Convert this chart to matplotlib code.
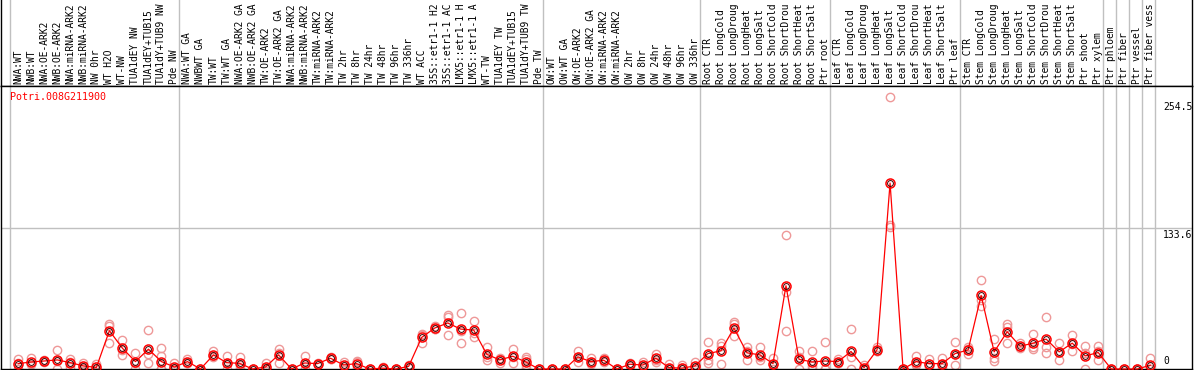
"""Expression profile of Potri.008G211900 across sample groups"""
import matplotlib

matplotlib.use("Agg")
import matplotlib.pyplot as plt

GENE = "Potri.008G211900"

# sample names as the chart shows them (cut to 14 characters)
SAMPLES = [
    "NWA:WT", "NWB:WT", "NWA:OE-ARK2", "NWB:OE-ARK2", "NWA:miRNA-ARK2",
    "NWB:miRNA-ARK2", "NW 0hr", "WT H2O", "WT-NW", "TUA1dEY NW",
    "TUA1dEY+TUB15", "TUA1dY+TUB9 NW", "Pde NW",
    "NWA:WT GA", "NWBWT GA", "TW:WT", "TW:WT GA", "NWA:OE-ARK2 GA",
    "NWB:OE-ARK2 GA", "TW:OE-ARK2", "TW:OE-ARK2 GA", "NWA:miRNA-ARK2",
    "NWB:miRNA-ARK2", "TW:miRNA-ARK2", "TW:miRNA-ARK2", "TW 2hr", "TW 8hr",
    "TW 24hr", "TW 48hr", "TW 96hr", "TW 336hr", "WT ACC",
    "35S::etr1-1 H2", "35S::etr1-1 AC", "LMX5::etr1-1 H",
    "LMX5::etr1-1 A", "WT-TW", "TUA1dEY TW", "TUA1dEY+TUB15",
    "TUA1dY+TUB9 TW", "Pde TW",
    "OW:WT", "OW:WT GA", "OW:OE-ARK2", "OW:OE-ARK2 GA", "OW:miRNA-ARK2",
    "OW:miRNA-ARK2", "OW 2hr", "OW 8hr", "OW 24hr", "OW 48hr", "OW 96hr",
    "OW 336hr",
    "Root CTR", "Root LongCold", "Root LongDroug", "Root LongHeat",
    "Root LongSalt", "Root ShortCold", "Root ShortDrou", "Root ShortHeat",
    "Root ShortSalt", "Ptr root",
    "Leaf CTR", "Leaf LongCold", "Leaf LongDroug", "Leaf LongHeat",
    "Leaf LongSalt", "Leaf ShortCold", "Leaf ShortDrou", "Leaf ShortHeat",
    "Leaf ShortSalt", "Ptr leaf",
    "Stem CTR", "Stem LongCold", "Stem LongDroug", "Stem LongHeat",
    "Stem LongSalt", "Stem ShortCold", "Stem ShortDrou", "Stem ShortHeat",
    "Stem ShortSalt", "Ptr shoot", "Ptr xylem",
    "Ptr phloem", "Ptr fiber", "Ptr vessel", "Ptr fiber vess",
]

# column index where each sample group starts (last entry closes the chart)
GROUP_EDGES = [0, 13, 41, 53, 63, 73, 84, 85, 86, 87, 88]

MEANS = [
    5.1, 6.7, 7.6, 8.6, 6.0, 2.9, 1.5, 36.3, 19.7, 7.0, 18.8, 7.0, 1.9,
    7.0, 0.0, 13.4, 6.0, 5.4, 0.0, 1.9, 13.4, 0.0, 5.7, 5.1, 10.2, 3.8, 5.1,
    0.0, 0.8, 0.0, 2.5, 29.9, 38.8, 43.6, 37.8, 36.9, 14.0, 8.6, 12.1, 6.7,
    0.0,
    0.0, 0.0, 11.5, 7.0, 8.3, 0.0, 4.5, 3.8, 10.2, 1.3, 0.8, 2.9,
    14.6, 17.2, 38.8, 15.3, 13.4, 5.1, 78.9, 9.2, 6.7, 7.6,
    7.0, 16.6, 1.3, 18.1, 176.2, 0.0, 7.0, 5.1, 5.1, 14.6,
    18.1, 69.7, 16.2, 35.3, 21.6, 24.5, 28.3, 16.2, 24.5, 12.4, 15.6,
    0.0, 0.0, 0.0, 3.5,
]

REPLICATES = [
    [9.2, 0.0, 6.0], [10.8, 4.5, 4.8], [8.9, 7.3, 6.6], [17.8, 0.0, 8.0],
    [6.6, 1.5, 9.9], [6.0, 2.0, 0.7], [4.5, 0.0, 0.0], [42.6, 25.1, 41.2],
    [27.4, 13.4, 18.3], [15.3, 0.0, 5.7], [36.9, 14.0, 5.5],
    [19.7, 12.4, 0.0, 0.0], [6.0, 0.8, 0.0],
    [9.2, 6.0, 5.8], [0.0, 0.0, 0.0], [16.6, 11.5, 12.1], [12.4, 0.0, 5.6],
    [11.5, 0.8, 3.9], [0.0, 0.0, 0.0], [6.0, 0.8, 0.0], [18.8, 6.0, 15.4],
    [0.0, 0.0, 0.0], [12.4, 0.0, 4.7], [6.0, 4.5, 4.8], [11.5, 9.2, 9.9],
    [7.0, 3.0, 1.4], [8.0, 6.7, 0.6], [0.0, 0.0, 0.0], [1.9, 0.0, 0.5],
    [0.0, 0.0, 0.0], [3.8, 1.0, 2.7], [33.1, 24.2, 32.4], [40.5, 38.0, 37.9],
    [51.5, 49.6, 32.4], [52.8, 24.2, 36.4], [45.8, 30.5, 34.4],
    [21.0, 11.5, 8.3], [10.2, 6.0, 9.6], [18.8, 6.0, 11.5],
    [11.5, 9.5, 3.8, 0.8], [0.0, 0.0, 0.0],
    [0.0, 0.0, 0.0], [0.0, 0.0, 0.0], [16.6, 7.0, 10.9], [10.2, 4.5, 6.3],
    [10.8, 7.6, 6.5], [0.0, 0.0, 0.0], [6.0, 3.0, 4.5], [7.0, 1.9, 2.5],
    [14.6, 7.0, 9.0], [4.5, 0.0, 0.0], [3.8, 0.5, 0.0], [7.0, 1.0, 0.7],
    [26.0, 8.3, 6.0], [24.2, 22.0, 4.5], [44.2, 42.6, 31.5],
    [20.4, 8.3, 17.2], [21.0, 8.3, 10.9], [10.2, 0.0, 5.1],
    [127.0, 72.8, 35.6], [16.6, 0.0, 11.0], [17.2, 0.0, 2.9],
    [25.8, 0.0, 0.0],
    [9.2, 6.0, 5.8], [37.8, 11.5, 0.0], [4.0, 0.0, 0.0], [20.4, 17.2, 16.6],
    [257.3, 136.5, 135.0], [0.0, 0.0, 0.0], [12.4, 4.5, 4.1],
    [9.2, 2.9, 3.2], [10.2, 4.5, 0.6], [26.0, 3.8, 14.0],
    [21.0, 14.6, 18.7], [84.0, 65.0, 60.0], [28.3, 10.2, 7.6],
    [42.6, 39.4, 25.1], [24.5, 20.4, 19.9], [33.1, 21.0, 19.4],
    [49.6, 20.4, 15.6], [24.2, 8.3, 16.1], [32.4, 17.2, 23.9],
    [21.6, 0.0, 15.6], [21.6, 8.3, 16.9],
    [0.0, 0.0, 0.0], [0.0, 0.0, 0.0], [0.0, 0.0, 0.0], [10.5, 0.0, 0.0],
]

Y_TICKS = [0, 133.6, 254.5]
Y_TICK_LABELS = ["0", "133.6", "254.5"]

# pixel layout of the 1194 x 370 picture
FIG_W, FIG_H = 1194, 370
COL_LEFT, COL_W = 10, 13.011
FRAME_L, FRAME_R = 1, 1192
HEADER_BOTTOM, PLOT_BOTTOM = 86, 369
PX_PER_UNIT = 141 / 133.6
MONO = "DejaVu Sans Mono"


def px_to_col(px):
    """convert a horizontal pixel position to column units"""
    return (px - COL_LEFT) / COL_W


def make_axes(fig):
    """header axes for the sample names and main axes for the values"""
    left = FRAME_L / FIG_W
    width = (FRAME_R - FRAME_L) / FIG_W
    ax_head = fig.add_axes([left, 1 - HEADER_BOTTOM / FIG_H, width,
                            HEADER_BOTTOM / FIG_H])
    ax = fig.add_axes([left, (FIG_H - PLOT_BOTTOM) / FIG_H, width,
                       (PLOT_BOTTOM - HEADER_BOTTOM) / FIG_H])
    xlim = (px_to_col(FRAME_L), px_to_col(FRAME_R))
    for a in (ax_head, ax):
        a.set_xlim(*xlim)
        a.set_xticks([])
        a.set_yticks([])
        for spine in a.spines.values():
            spine.set_color("black")
            spine.set_linewidth(1.0)
        for edge in GROUP_EDGES:
            a.axvline(edge, color="#c0c0c0", lw=1.0, zorder=0)
    ax_head.spines["top"].set_visible(False)
    ax_head.set_ylim(0, HEADER_BOTTOM)
    ax.set_ylim(0, (PLOT_BOTTOM - HEADER_BOTTOM) / PX_PER_UNIT)
    return ax_head, ax


def main():
    """draw the profile and save it"""
    fig = plt.figure(figsize=(FIG_W / 100, FIG_H / 100), dpi=100)
    ax_head, ax = make_axes(fig)

    xs = [i + 0.64 for i in range(len(SAMPLES))]

    for x, name in zip(xs, SAMPLES):
        ax_head.text(x, 2.5, name, rotation=90, ha="center", va="bottom",
                     family=MONO, fontsize=6.9)

    ax.axhline(Y_TICKS[1], color="#c0c0c0", lw=1.0, zorder=0)

    for x, reps in zip(xs, REPLICATES):
        ax.plot([x] * len(reps), reps, "o", ms=6, mfc="none", mec="#ee9898",
                mew=1.0, clip_on=False, zorder=2)

    ax.plot(xs, MEANS, "-", color="#ff0000", lw=0.9, zorder=3, clip_on=False)
    ax.plot(xs, MEANS, "o", ms=6.5, mfc="none", mec="#ff0000", mew=1.1,
            clip_on=False, zorder=4)
    ax.plot(xs, MEANS, "o", ms=4.2, mfc="none", mec="#400000", mew=0.7,
            clip_on=False, zorder=5)

    tick_x = px_to_col(1163)
    for val, lab in zip(Y_TICKS, Y_TICK_LABELS):
        if val == 0:
            ax.annotate(lab, (tick_x, val), xytext=(0, 3),
                        textcoords="offset pixels", va="bottom", ha="left",
                        family=MONO, fontsize=7)
        else:
            ax.annotate(lab, (tick_x, val), xytext=(0, -2),
                        textcoords="offset pixels", va="top", ha="left",
                        family=MONO, fontsize=7)

    ax.text(px_to_col(10), (PLOT_BOTTOM - 97) / PX_PER_UNIT, GENE,
            color="#ff0000", family=MONO, fontsize=7.2, va="center",
            ha="left")

    fig.savefig("out.png", dpi=100)


if __name__ == "__main__":
    main()
